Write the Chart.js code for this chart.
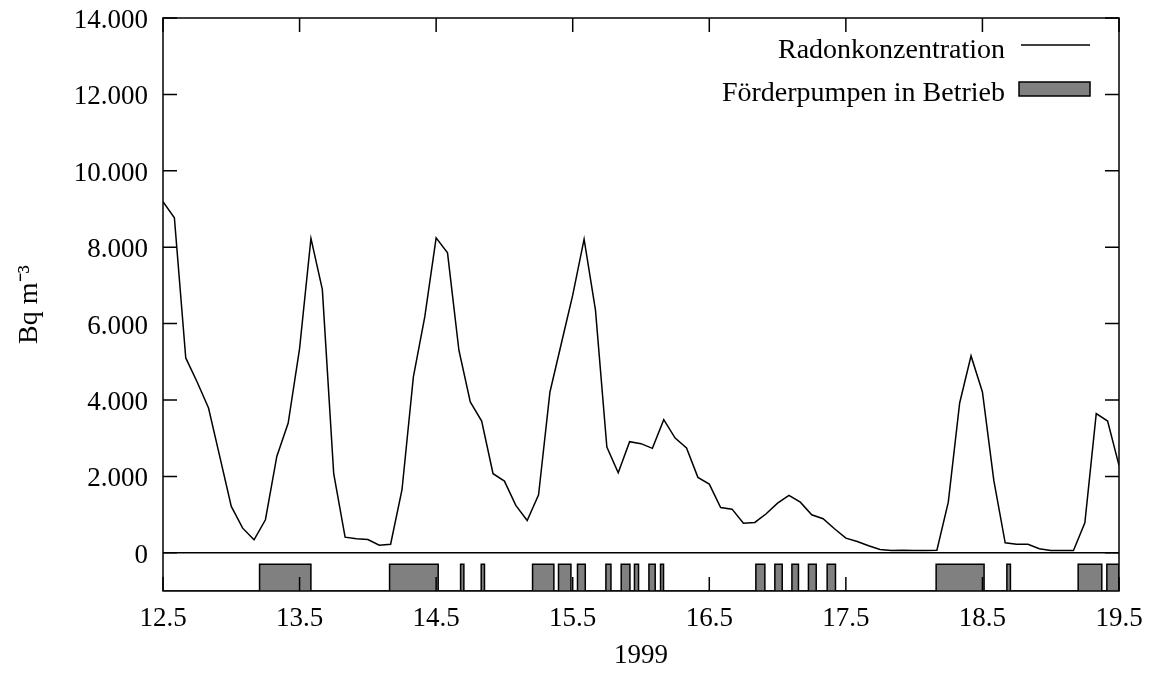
<!DOCTYPE html>
<html>
<head>
<meta charset="utf-8">
<script src="https://cdn.jsdelivr.net/npm/chart.js@4.4.1/dist/chart.umd.min.js"></script>
<style>
  html, body { margin: 0; padding: 0; background: #fff; }
</style>
</head>
<body>
<canvas id="radonChart" width="1153" height="679"></canvas>
<script>
// Radon readings every 2 hours, starting 12.5. (1999)
const startDay = 12.5;
const stepHours = 2;
const radonValues = [
  9190, 8771, 5101, 4472, 3790, 2506, 1214, 645, 340, 865, 2524, 3397,
  5347, 8230, 6894, 2071, 409, 367, 349, 199, 225, 1651, 4603, 6175,
  8246, 7853, 5303, 3948, 3450, 2071, 1877, 1240, 847, 1520, 4210, 5478,
  6744, 8212, 6351, 2768, 2097, 2909, 2857, 2734, 3486, 3004, 2742, 1974,
  1798, 1187, 1143, 776, 794, 1022, 1300, 1502, 1326, 996, 891, 629,
  383, 296, 183, 87, 60, 68, 60, 60, 68, 1326, 3922, 5154,
  4210, 1895, 262, 225, 225, 105, 60, 60, 60, 786, 3643, 3450,
  2288
];

// pump running periods (day of month)
const pumpOn  = [13.207, 14.159, 14.679, 14.830, 15.206, 15.396, 15.535, 15.743, 15.855, 15.952, 16.058,
                 16.143, 16.841, 16.980, 17.105, 17.226, 17.363, 18.161, 18.679, 19.201, 19.411];
const pumpOff = [13.583, 14.515, 14.703, 14.854, 15.362, 15.487, 15.592, 15.780, 15.919, 15.982, 16.104,
                 16.165, 16.907, 17.034, 17.153, 17.283, 17.424, 18.512, 18.705, 19.374, 19.5];
const pumpLow = -1000;
const pumpHigh = -300;

const xTicks = [12.5, 13.5, 14.5, 15.5, 16.5, 17.5, 18.5, 19.5];
const yTicks = [0, 2000, 4000, 6000, 8000, 10000, 12000, 14000];
const seriesLabels = ['Radonkonzentration', 'Förderpumpen in Betrieb'];
const xTitle = '1999';
const yTitle = 'Bq m\u207B\u00B3';

const radonPoints = radonValues.map((v, i) => ({ x: startDay + i * stepHours / 24, y: v }));

// step outline for the pump bars
const pumpPoints = [{ x: xTicks[0], y: pumpLow }];
pumpOn.forEach((a, i) => {
  const b = pumpOff[i];
  pumpPoints.push({ x: a, y: pumpLow }, { x: a, y: pumpHigh }, { x: b, y: pumpHigh }, { x: b, y: pumpLow });
});
pumpPoints.push({ x: xTicks[xTicks.length - 1], y: pumpLow });

const serif = 'Liberation Serif, Times New Roman, serif';
Chart.defaults.color = '#000';
Chart.defaults.font.family = serif;

function fmtThousands(v) {
  return String(v).replace(/\B(?=(\d{3})+(?!\d))/g, '.');
}

// frame, inward ticks on all sides, zero line and the legend inside the plot
const framePlugin = {
  id: 'frame',
  afterDatasetsDraw(chart) {
    const { ctx, chartArea: a, scales: { x, y } } = chart;
    ctx.save();
    ctx.strokeStyle = '#000';
    ctx.lineWidth = 1.5;

    const y0 = y.getPixelForValue(0);
    ctx.beginPath();
    ctx.moveTo(a.left, y0);
    ctx.lineTo(a.right, y0);
    ctx.stroke();

    const tl = 14;
    ctx.beginPath();
    y.ticks.forEach(t => {
      const p = y.getPixelForValue(t.value);
      ctx.moveTo(a.left, p); ctx.lineTo(a.left + tl, p);
      ctx.moveTo(a.right, p); ctx.lineTo(a.right - tl, p);
    });
    x.ticks.forEach(t => {
      const p = x.getPixelForValue(t.value);
      ctx.moveTo(p, a.bottom); ctx.lineTo(p, a.bottom - tl);
      ctx.moveTo(p, a.top); ctx.lineTo(p, a.top + tl);
    });
    ctx.stroke();
    ctx.strokeRect(a.left, a.top, a.right - a.left, a.bottom - a.top);

    // legend
    const ds = chart.data.datasets;
    const textRight = a.right - 114;
    const sampleL = a.right - 100;
    const sampleR = a.right - 29;
    ctx.font = '28px ' + serif;
    ctx.fillStyle = '#000';
    ctx.textAlign = 'right';
    ctx.textBaseline = 'alphabetic';
    ctx.fillText(ds[0].label, textRight, a.top + 40);
    ctx.beginPath();
    ctx.moveTo(sampleL + 2, a.top + 27);
    ctx.lineTo(sampleR, a.top + 27);
    ctx.stroke();

    ctx.fillText(ds[1].label, textRight, a.top + 83);
    ctx.fillStyle = ds[1].backgroundColor;
    ctx.fillRect(sampleL, a.top + 64, sampleR - sampleL, 14);
    ctx.strokeRect(sampleL, a.top + 64, sampleR - sampleL, 14);
    ctx.restore();
  }
};

new Chart(document.getElementById('radonChart').getContext('2d'), {
  type: 'line',
  data: {
    datasets: [
      {
        label: seriesLabels[0],
        data: radonPoints,
        borderColor: '#000',
        borderWidth: 1.5,
        pointRadius: 0,
        tension: 0,
        fill: false,
      },
      {
        label: seriesLabels[1],
        data: pumpPoints,
        borderColor: '#000',
        backgroundColor: '#808080',
        borderWidth: 1.5,
        pointRadius: 0,
        tension: 0,
        fill: { value: pumpLow },
      },
    ],
  },
  options: {
    responsive: false,
    animation: false,
    layout: { padding: { top: 18, right: 34, left: 0, bottom: 0 } },
    plugins: {
      legend: { display: false },
      tooltip: { enabled: false },
    },
    scales: {
      x: {
        type: 'linear',
        min: xTicks[0],
        max: xTicks[xTicks.length - 1],
        afterBuildTicks: s => { s.ticks = xTicks.map(v => ({ value: v })); },
        afterFit: s => { s.height = 88; s.paddingLeft = 0; s.paddingRight = 0; },
        grid: { display: false, drawTicks: false },
        border: { display: false },
        ticks: {
          padding: 12,
          maxRotation: 0,
          autoSkip: false,
          font: { size: 27 },
          callback: v => Number(v).toFixed(1),
        },
        title: { display: true, text: xTitle, font: { size: 27 }, padding: { top: 0, bottom: 7 } },
      },
      y: {
        min: pumpLow,
        max: yTicks[yTicks.length - 1],
        afterBuildTicks: s => { s.ticks = yTicks.map(v => ({ value: v })); },
        afterFit: s => { s.width = 163; s.paddingTop = 0; s.paddingBottom = 0; },
        grid: { display: false, drawTicks: false },
        border: { display: false },
        ticks: {
          padding: 15,
          labelOffset: 3,
          font: { size: 27 },
          callback: v => fmtThousands(v),
        },
        title: { display: true, text: yTitle, font: { size: 28 }, padding: { top: 13, bottom: 0 } },
      },
    },
  },
  plugins: [framePlugin],
});
</script>
</body>
</html>
